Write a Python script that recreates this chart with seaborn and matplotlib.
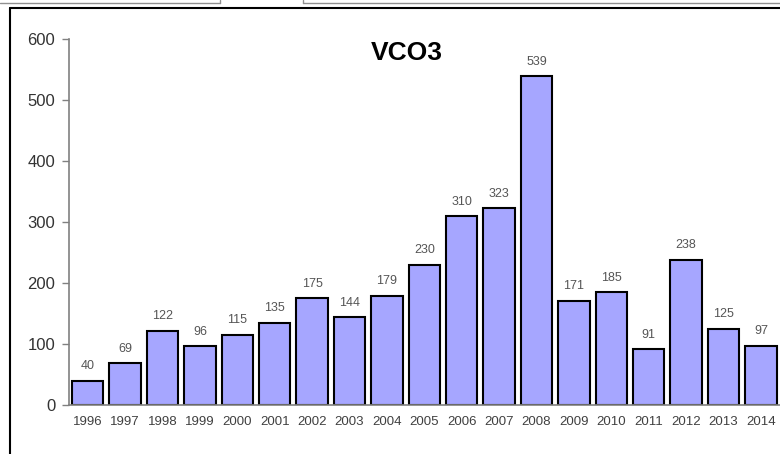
import matplotlib
matplotlib.use("Agg")
import matplotlib.pyplot as plt
import seaborn as sns
import pandas as pd
from matplotlib.ticker import FixedLocator
from matplotlib.lines import Line2D

# Chart data
years = ['1996', '1997', '1998', '1999', '2000', '2001', '2002', '2003', '2004', '2005',
         '2006', '2007', '2008', '2009', '2010', '2011', '2012', '2013', '2014']
counts = [40, 69, 122, 96, 115, 135, 175, 144, 179, 230,
          310, 323, 539, 171, 185, 91, 238, 125, 97]
y_ticks = [0, 100, 200, 300, 400, 500, 600]

sns.set_style("white")
plt.rcParams['font.family'] = ['Liberation Sans', 'DejaVu Sans']

df = pd.DataFrame({'Year': years, 'Count': counts})

fig = plt.figure(figsize=(7.8, 4.54), dpi=100)
ax = fig.add_axes([0.0885, 0.108, 0.911, 0.806])

sns.barplot(data=df, x='Year', y='Count', color='#a6a6ff', saturation=1,
            edgecolor='black', linewidth=1.5, width=0.84, ax=ax)

# value labels
ax.bar_label(ax.containers[0], labels=[str(c) for c in counts],
             padding=6, fontsize=9, color='#555555')

ax.set_xlim(-0.5, len(years) - 0.5)
ax.set_ylim(0, 600)
ax.set_yticks(y_ticks)
ax.set_xlabel('')
ax.set_ylabel('')

# ticks at category boundaries
ax.xaxis.set_minor_locator(FixedLocator([i - 0.5 for i in range(len(years) + 1)]))
ax.tick_params(axis='x', which='major', length=0, labelsize=9.5, labelcolor='#404040', pad=8)
ax.tick_params(axis='x', which='minor', length=4, color='#808080', width=1)
ax.tick_params(axis='y', which='major', length=5, color='#808080', width=1,
               labelsize=12, labelcolor='#333333', pad=5, left=True)

for side in ['top', 'right']:
    ax.spines[side].set_visible(False)
for side in ['left', 'bottom']:
    ax.spines[side].set_color('#808080')
    ax.spines[side].set_linewidth(1.2)

ax.text(0.476, 0.995, 'VCO3', transform=ax.transAxes, ha='center', va='top',
        fontsize=19, fontweight='bold', color='black')

# screenshot frame
fig.add_artist(Line2D([10 / 780, 10 / 780], [0, 1 - 8 / 454], color='black', lw=1.5))
fig.add_artist(Line2D([10 / 780, 1], [1 - 8 / 454, 1 - 8 / 454], color='black', lw=1.5))
fig.add_artist(Line2D([0, 220 / 780], [1 - 3 / 454, 1 - 3 / 454], color='#909090', lw=1))
fig.add_artist(Line2D([220 / 780, 220 / 780], [1 - 3 / 454, 1], color='#909090', lw=1))
fig.add_artist(Line2D([303 / 780, 1], [1 - 3 / 454, 1 - 3 / 454], color='#909090', lw=1))
fig.add_artist(Line2D([303 / 780, 303 / 780], [1 - 3 / 454, 1], color='#909090', lw=1))

fig.savefig('out.png', dpi=100)
